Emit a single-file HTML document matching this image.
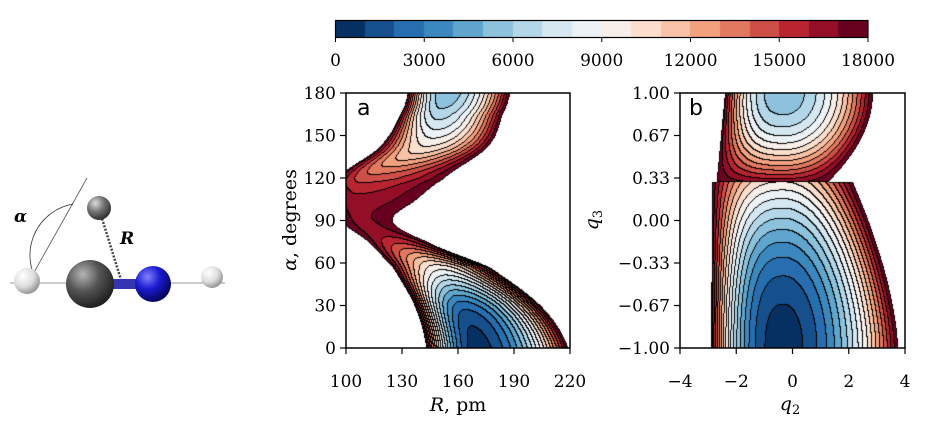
<!DOCTYPE html>
<html><head><meta charset="utf-8">
<style>
html,body{margin:0;padding:0;background:#fff;}
body{width:932px;height:438px;position:relative;overflow:hidden;font-family:"DejaVu Serif","Liberation Serif",serif;}
.t{position:absolute;font-size:17px;color:#000;white-space:nowrap;font-family:"DejaVu Sans","Liberation Sans",sans-serif;}
canvas{position:absolute;}
</style></head><body>
<svg width="932" height="438" style="position:absolute;left:0;top:0">
<defs>
<radialGradient id="gC" cx="35%" cy="30%" r="70%"><stop offset="0" stop-color="#b5b5b5"/><stop offset="0.5" stop-color="#555"/><stop offset="1" stop-color="#222"/></radialGradient>
<radialGradient id="gN" cx="35%" cy="30%" r="70%"><stop offset="0" stop-color="#8080ff"/><stop offset="0.5" stop-color="#1a1ad0"/><stop offset="1" stop-color="#060660"/></radialGradient>
<radialGradient id="gH" cx="35%" cy="30%" r="70%"><stop offset="0" stop-color="#fff"/><stop offset="0.6" stop-color="#ddd"/><stop offset="1" stop-color="#999"/></radialGradient>
<radialGradient id="gH2" cx="35%" cy="30%" r="70%"><stop offset="0" stop-color="#ddd"/><stop offset="0.5" stop-color="#777"/><stop offset="1" stop-color="#333"/></radialGradient>
</defs>
<line x1="10" y1="283" x2="225" y2="283" stroke="#999" stroke-width="1"/>
<line x1="28" y1="283" x2="87" y2="178" stroke="#555" stroke-width="0.8"/>
<path d="M 38 283 A 52 52 0 0 1 73 204" fill="none" stroke="#333" stroke-width="0.8"/>
<line x1="100" y1="212" x2="122" y2="283" stroke="#444" stroke-width="2.5" stroke-dasharray="2,1.5"/>
<circle cx="27" cy="281" r="13" fill="url(#gH)"/>
<circle cx="212" cy="277" r="11" fill="url(#gH)"/>
<rect x="100" y="279" width="45" height="10" fill="#3535b0"/>
<circle cx="90" cy="284" r="24" fill="url(#gC)"/>
<circle cx="153" cy="284" r="18" fill="url(#gN)"/>
<circle cx="99" cy="208" r="12" fill="url(#gH2)"/>
<text x="14" y="222" font-family="DejaVu Serif,serif" font-style="italic" font-weight="bold" font-size="17">α</text>
<text x="120" y="244" font-family="DejaVu Serif,serif" font-style="italic" font-weight="bold" font-size="17">R</text>
</svg>
<canvas id="cb" width="533" height="17" style="left:335px;top:20px"></canvas>
<canvas id="ca" width="224" height="255" style="left:346px;top:93px"></canvas>
<canvas id="cbp" width="225" height="255" style="left:680px;top:93px"></canvas>
<svg id="ov" width="932" height="438" style="position:absolute;left:0;top:0"></svg>
<div class="t" style="left:357px;top:96px;font-size:22px">a</div>
<div class="t" style="left:689px;top:96px;font-size:22px">b</div>
<script>
var A=[[5,48,97],[33,102,172],[67,147,195],[146,197,222],[209,229,240],[247,247,247],[253,219,199],[244,165,130],[214,96,77],[178,24,43],[103,0,31]];
function cmap(t){t=Math.max(0,Math.min(1,t));var f=t*10,i=Math.min(9,Math.floor(f)),u=f-i;var a=A[i],b=A[i+1];return [a[0]+(b[0]-a[0])*u,a[1]+(b[1]-a[1])*u,a[2]+(b[2]-a[2])*u];}
function lc(i){return cmap(i/17);}
function interp(tab,x){var n=tab.length;if(x<=tab[0][0])return tab[0].slice(1);if(x>=tab[n-1][0])return tab[n-1].slice(1);
for(var k=0;k<n-1;k++){if(x<=tab[k+1][0]){var u=(x-tab[k][0])/(tab[k+1][0]-tab[k][0]);var p0=tab[Math.max(0,k-1)],p1=tab[k],p2=tab[k+1],p3=tab[Math.min(n-1,k+2)];var out=[];
for(var j=1;j<p1.length;j++){var a=p0[j],b=p1[j],c=p2[j],d=p3[j];out.push(0.5*((2*b)+(-a+c)*u+(2*a-5*b+4*c-d)*u*u+(-a+3*b-3*c+d)*u*u*u));}return out;}}}
function draw(id,W,H,fn){var c=document.getElementById(id),x=c.getContext('2d'),im=x.createImageData(W,H),L=[];
for(var j=0;j<H;j++)for(var i=0;i<W;i++){var e=fn(i+0.5,j+0.5);L.push(e>=18000||isNaN(e)?-1:Math.max(0,Math.floor(e/1000)));}
for(var j=0;j<H;j++)for(var i=0;i<W;i++){var k=j*W+i,l=L[k],p=k*4,col;
if(l<0)col=[255,255,255];else{col=lc(l);var ed=false;if(i+1<W&&L[k+1]!=l&&L[k+1]>=0)ed=true;if(j+1<H&&L[k+W]!=l&&L[k+W]>=0)ed=true;if(i+1<W&&L[k+1]<0)ed=true;if(i>0&&L[k-1]<0)ed=true;if(j>0&&L[k-W]<0)ed=true;if(j+1<H&&L[k+W]<0)ed=true;if(ed)col=[0,0,0];}
im.data[p]=col[0];im.data[p+1]=col[1];im.data[p+2]=col[2];im.data[p+3]=255;}
x.putImageData(im,0,0);}
(function(){var c=document.getElementById('cb'),x=c.getContext('2d');for(var i=0;i<18;i++){var col=lc(i);x.fillStyle='rgb('+col.map(Math.round).join(',')+')';var a=Math.round(i*533/18),b=Math.round((i+1)*533/18);x.fillRect(a,0,b-a,17);}})();
var TA=[[0,500,143,219,170],[29,2300,137,205,163],[57,9500,125,177,150],[76,15500,111,142,126],[90,16800,97,125,108],[105,16300,95,138,106],[119,14500,95,152,111],[142,10000,118,176,143],[165,6500,129,184,150],[180,5200,133,188,153]];
draw('ca',224,255,function(px,py){var al=180*(1-py/255),R=100+px*120/224;var v=interp(TA,al),Em=v[0],l=v[1],r=v[2],c0=v[3];var d=R<c0?(c0-R)/(c0-l):(R-c0)/(r-c0);return Em+(18000-Em)*d*d;});
draw('cbp',225,255,function(px,py){var q3=1-2*py/255,q2=-4+px*8/225,x0=-0.3,Em,l,r;
if(q3<0.3){var s=(q3+1)/1.3;Em=500+9500*Math.pow(s,2.2);l=-2.9+0.05*s;r=3.75-1.6*Math.pow(s,1.6);}
else{var s=(1-q3)/0.7;Em=5300+11500*Math.pow(s,2);l=-2.4-0.3*s;r=2.86-1.6*Math.pow(s,2);}
var d=q2<x0?(x0-q2)/(x0-l):(q2-x0)/(r-x0);var p=q2<x0?2.6:2;return Em+(18000-Em)*Math.pow(d,p);});
var s='';function T(x,y,t,anc){s+='<text x="'+x+'" y="'+y+'" text-anchor="'+(anc||'middle')+'" font-family="DejaVu Serif,Liberation Serif,serif" font-size="17">'+t+'</text>';}
s+='<rect x="335.5" y="20.5" width="532.5" height="17" fill="none" stroke="#000" stroke-width="1.2"/>';
for(var i=0;i<=6;i++){var x=335.5+i*532.5/6;s+='<line x1="'+x+'" y1="37" x2="'+x+'" y2="42" stroke="#000"/>';T(x,66,i*3000);}
function ax(x0,y0,w,h){s+='<rect x="'+x0+'" y="'+y0+'" width="'+w+'" height="'+h+'" fill="none" stroke="#000" stroke-width="1.5"/>';}
ax(346,93,224,255);ax(680,93,225,255);
var yl=['180','150','120','90','60','30','0'];for(var i=0;i<7;i++){var y=93+i*42.5;s+='<line x1="340" y1="'+y+'" x2="346" y2="'+y+'" stroke="#000" stroke-width="1.2"/>';T(336,y+6,yl[i],'end');}
var xl=['100','130','160','190','220'];for(var i=0;i<5;i++){var x=346+i*56;s+='<line x1="'+x+'" y1="348" x2="'+x+'" y2="354" stroke="#000" stroke-width="1.2"/>';T(x,387,xl[i]);}
var yb=['1.00','0.67','0.33','0.00','\u22120.33','\u22120.67','\u22121.00'];for(var i=0;i<7;i++){var y=93+i*42.5;s+='<line x1="674" y1="'+y+'" x2="680" y2="'+y+'" stroke="#000" stroke-width="1.2"/>';T(670,y+6,yb[i],'end');}
var xb=['\u22124','\u22122','0','2','4'];for(var i=0;i<5;i++){var x=680+i*56.25;s+='<line x1="'+x+'" y1="348" x2="'+x+'" y2="354" stroke="#000" stroke-width="1.2"/>';T(x,387,xb[i]);}
s+='<text x="458" y="411" text-anchor="middle" font-family="DejaVu Serif,serif" font-size="19"><tspan font-style="italic">R</tspan>, pm</text>';
s+='<text transform="translate(296,220) rotate(-90)" text-anchor="middle" font-family="DejaVu Serif,serif" font-size="19"><tspan font-style="italic">α</tspan>, degrees</text>';
s+='<text x="790" y="410" text-anchor="middle" font-family="DejaVu Serif,serif" font-size="19" font-style="italic">q<tspan font-size="13" dy="4" font-style="normal">2</tspan></text>';
s+='<text transform="translate(598,220) rotate(-90)" text-anchor="middle" font-family="DejaVu Serif,serif" font-size="19" font-style="italic">q<tspan font-size="13" dy="4" font-style="normal">3</tspan></text>';
document.getElementById('ov').innerHTML=s;
</script>
</body></html>
